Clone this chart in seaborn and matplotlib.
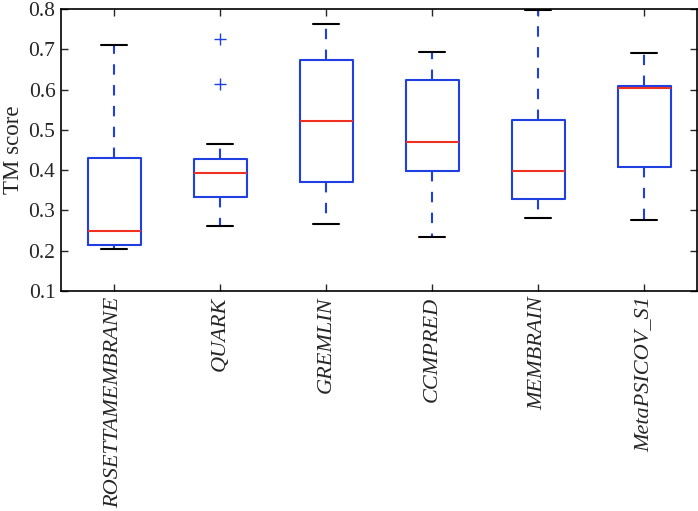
import numpy as np
import pandas as pd
import matplotlib
matplotlib.use("Agg")
import matplotlib.pyplot as plt
import seaborn as sns

methods = ["ROSETTAMEMBRANE", "QUARK", "GREMLIN", "CCMPRED", "MEMBRAIN", "MetaPSICOV_S1"]
whisker_low = [0.205, 0.262, 0.266, 0.234, 0.281, 0.276]
q1 = [0.215, 0.333, 0.372, 0.399, 0.328, 0.409]
median = [0.250, 0.393, 0.523, 0.471, 0.399, 0.604]
q3 = [0.430, 0.428, 0.673, 0.623, 0.526, 0.610]
whisker_high = [0.710, 0.465, 0.763, 0.693, 0.799, 0.692]
outlier_method = ["QUARK", "QUARK"]
outlier_value = [0.613, 0.727]

rows = []
for i, m in enumerate(methods):
    for v in (whisker_low[i], q1[i], median[i], q3[i], whisker_high[i]):
        rows.append({"method": m, "score": v})
df = pd.DataFrame(rows)
out_df = pd.DataFrame({"method": outlier_method, "score": outlier_value})

sns.set_style("ticks")
plt.rcParams["font.family"] = ["Liberation Serif", "DejaVu Serif"]

BLUE = "#1f3fe0"
RED = "#f03020"

fig = plt.figure(figsize=(6.98, 5.11), dpi=100)
ax = fig.add_axes([0.0874, 0.4305, 0.9112, 0.5515])

sns.boxplot(data=df, x="method", y="score", order=methods, ax=ax,
            fill=False, width=0.5, whis=np.inf, linewidth=1.5,
            boxprops=dict(color=BLUE, linewidth=1.5),
            medianprops=dict(color=RED, linewidth=1.5),
            whiskerprops=dict(color=BLUE, linestyle=(0, (5, 5)), linewidth=1.5),
            capprops=dict(color="black", linewidth=1.5),
            showfliers=False)
sns.scatterplot(data=out_df, x="method", y="score", ax=ax, marker="+",
                color=BLUE, s=70, linewidth=1.0, legend=False)

ax.set_xlim(-0.5, 5.5)
ax.set_ylim(0.1, 0.8)
ax.set_yticks(np.arange(0.1, 0.81, 0.1))
ax.set_yticklabels([f"{t:.1f}" for t in np.arange(0.1, 0.81, 0.1)], fontsize=15.5)
ax.set_xticks(range(len(methods)))
ax.set_xticklabels(methods, rotation=90, fontsize=16, fontstyle="italic")
ax.set_xlabel("")
ax.set_ylabel("TM score", fontsize=16.5, labelpad=3)
ax.tick_params(direction="in", length=5, width=1, top=True, right=True, pad=4)
for s in ax.spines.values():
    s.set_visible(True)
    s.set_linewidth(1.2)
    s.set_color("black")

fig.savefig("out.png", dpi=100)
